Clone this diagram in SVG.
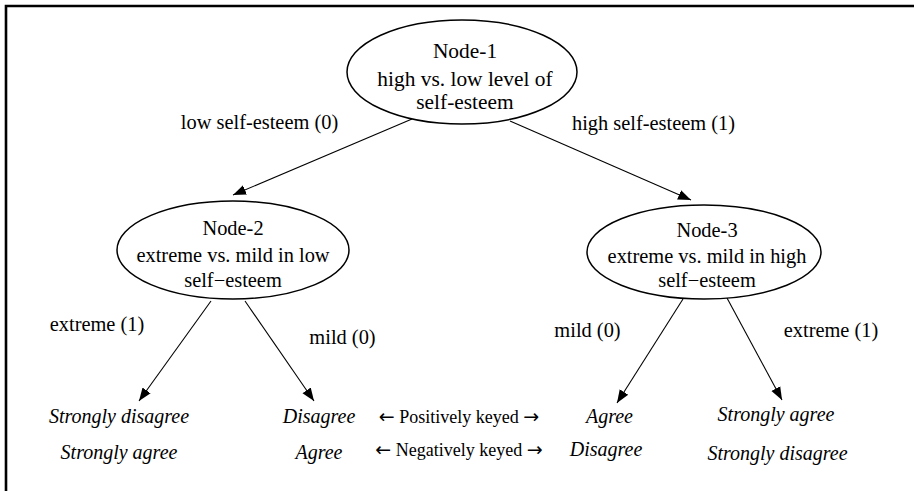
<svg xmlns="http://www.w3.org/2000/svg" width="914" height="491" viewBox="0 0 914 491">
<style>
.t{font-size:20.4px;fill:#000;text-anchor:middle}
.n1{font-size:21.4px}
.lf{font-size:20px;font-style:italic}
.k{font-size:18px}
.ar{font-family:"DejaVu Sans",sans-serif;font-size:19px}
.node ellipse{fill:#fff;stroke:#000;stroke-width:1.5}
.edge{stroke:#000;stroke-width:1.1;fill:none;marker-end:url(#ah)}
</style>
<defs>
<marker id="ah" markerUnits="userSpaceOnUse" markerWidth="14" markerHeight="12" viewBox="0 0 14 12" refX="13" refY="6" orient="auto">
<path d="M0,1 L13,6 L0,11 Z" fill="#000"/>
</marker>
</defs>
<rect width="914" height="491" fill="#fff"/>
<path d="M6,491 V6 H914" fill="none" stroke="#000" stroke-width="2.6"/>
<g id="connectors">
<line class="edge" x1="412" y1="119" x2="233" y2="195"/>
<line class="edge" x1="510" y1="121" x2="691" y2="200"/>
<line class="edge" x1="211" y1="301" x2="139" y2="401"/>
<line class="edge" x1="245" y1="301" x2="314" y2="401"/>
<line class="edge" x1="683" y1="299" x2="617" y2="403"/>
<line class="edge" x1="727" y1="298" x2="782" y2="400"/>
</g>
<g font-family="'Liberation Serif', 'Times New Roman', serif">
<g id="edge-labels">
<text class="t" x="259.5" y="129">low self-esteem (0)</text>
<text class="t" x="653.5" y="130">high self-esteem (1)</text>
<text class="t" x="97" y="331">extreme (1)</text>
<text class="t" x="342.5" y="344">mild (0)</text>
<text class="t" x="587.5" y="337">mild (0)</text>
<text class="t" x="831" y="337">extreme (1)</text>
</g>
<g id="node-1" class="node">
<ellipse cx="462" cy="72" rx="115" ry="52"/>
<text class="t n1" x="465" y="58">Node-1</text>
<text class="t n1" x="465" y="86">high vs. low level of</text>
<text class="t n1" x="465" y="109">self-esteem</text>
</g>
<g id="node-2" class="node">
<ellipse cx="233" cy="250" rx="116" ry="49"/>
<text class="t" x="233" y="235">Node-2</text>
<text class="t" x="233" y="262">extreme vs. mild in low</text>
<text class="t" x="233" y="287">self−esteem</text>
</g>
<g id="node-3" class="node">
<ellipse cx="704" cy="252" rx="117" ry="47"/>
<text class="t" x="707" y="237">Node-3</text>
<text class="t" x="707" y="263">extreme vs. mild in high</text>
<text class="t" x="707" y="287">self−esteem</text>
</g>
<g id="leaves">
<text class="t lf" x="119" y="423">Strongly disagree</text>
<text class="t lf" x="119" y="459">Strongly agree</text>
<text class="t lf" x="319" y="423">Disagree</text>
<text class="t lf" x="319" y="459">Agree</text>
<text class="t lf" x="609.5" y="423">Agree</text>
<text class="t lf" x="606" y="456">Disagree</text>
<text class="t lf" x="776" y="421">Strongly agree</text>
<text class="t lf" x="777.5" y="460">Strongly disagree</text>
</g>
<g id="keys">
<text class="t k" x="459" y="423"><tspan class="ar">←</tspan> Positively keyed <tspan class="ar">→</tspan></text>
<text class="t k" x="459" y="456"><tspan class="ar">←</tspan> Negatively keyed <tspan class="ar">→</tspan></text>
</g>
</g>
</svg>
